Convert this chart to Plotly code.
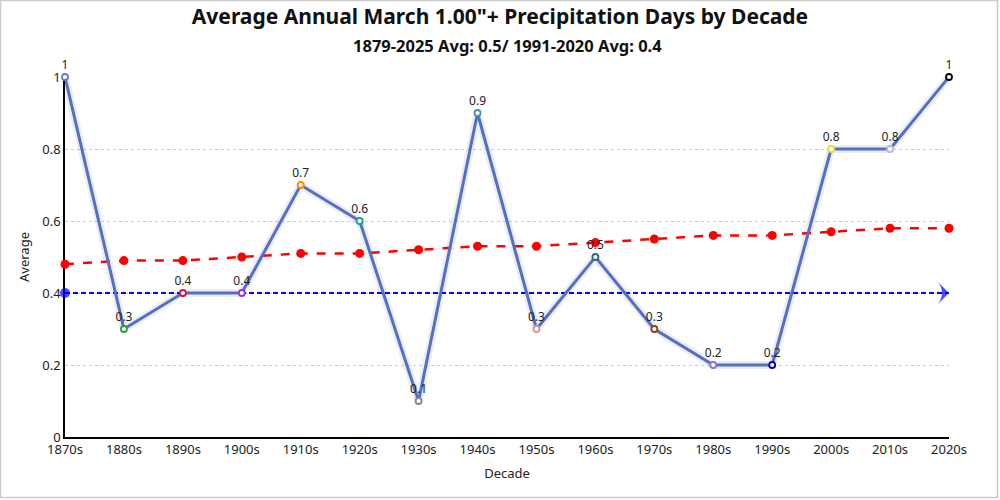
import plotly.graph_objects as go

decades = ["1870s", "1880s", "1890s", "1900s", "1910s", "1920s", "1930s", "1940s",
           "1950s", "1960s", "1970s", "1980s", "1990s", "2000s", "2010s", "2020s"]
averages = [1.0, 0.3, 0.4, 0.4, 0.7, 0.6, 0.1, 0.9, 0.3, 0.5, 0.3, 0.2, 0.2, 0.8, 0.8, 1.0]
trend = [0.48, 0.49, 0.49, 0.50, 0.51, 0.51, 0.52, 0.53, 0.53, 0.54, 0.55, 0.56, 0.56, 0.57, 0.58, 0.58]
normal_1991_2020 = 0.4
point_colors = ["#5b7fd6", "#2ca02c", "#dc143c", "#9932cc", "#ff8c00", "#20a090", "#888888", "#4a90b0",
                "#e0909a", "#2f6f6f", "#8b4513", "#9370db", "#0000cd", "#e6e040", "#b8bcd8", "#000000"]

W, H = 1000, 500
ml, mr, mt, mb = 65, 51, 77, 63
pw, ph = W - ml - mr, H - mt - mb
FONT = "Noto Sans"

fig = go.Figure()

# shadow of the main line
fig.add_trace(go.Scatter(
    x=decades, y=averages, mode="lines",
    line=dict(color="rgba(0,0,0,0.07)", width=8),
    hoverinfo="skip", showlegend=False, cliponaxis=False))

# trend line
fig.add_trace(go.Scatter(
    x=decades, y=trend, mode="lines+markers",
    line=dict(color="#ff0000", width=2.5, dash="dash"),
    marker=dict(color="#ff0000", size=9),
    showlegend=False, cliponaxis=False))

# normal line with arrow
n = len(decades)
fig.add_trace(go.Scatter(
    x=decades, y=[normal_1991_2020] * n, mode="lines+markers",
    line=dict(color="#0000ff", width=2, dash="5px,3px"),
    marker=dict(color="#0000ff",
                size=[10] + [0] * (n - 2) + [17],
                symbol=["circle"] + ["circle"] * (n - 2) + ["arrow-wide"],
                angle=[0] * (n - 1) + [90],
                line=dict(width=0)),
    showlegend=False, cliponaxis=False))

# main series
fig.add_trace(go.Scatter(
    x=decades, y=averages, mode="lines+markers+text",
    line=dict(color="#5470c6", width=3),
    marker=dict(color="white", size=6, line=dict(color=point_colors, width=1.8)),
    text=[f"{v:g}" for v in averages], textposition="top center",
    textfont=dict(family=FONT, size=12, color="#222"),
    showlegend=False, cliponaxis=False))

fig.update_layout(
    width=W, height=H,
    margin=dict(l=ml, r=mr, t=mt, b=mb, autoexpand=False),
    paper_bgcolor="white", plot_bgcolor="white",
    font=dict(family=FONT, size=12, color="#222"),
    title=dict(text="<b>Average Annual March 1.00\"+ Precipitation Days by Decade</b>",
               x=0.5, xanchor="center", y=(H - 17) / H, yanchor="middle",
               font=dict(family=FONT, size=21, color="#111")),
    xaxis=dict(type="category", range=[0, n - 1], showgrid=False, automargin=False,
               showline=True, linecolor="#000", linewidth=1.5, layer="below traces",
               ticks="", tickfont=dict(size=13),
               title=dict(text="Decade", font=dict(size=13), standoff=12)),
    yaxis=dict(range=[0, 1], dtick=0.2, showgrid=True, gridcolor="#cccccc", automargin=False,
               griddash="dot", gridwidth=1, zeroline=False, layer="below traces",
               showline=True, linecolor="#000", linewidth=1.5,
               ticks="", tickfont=dict(size=13), tickformat="~g",
               title=dict(text="Average", font=dict(size=13), standoff=10)),
    annotations=[dict(text="<b>1879-2025 Avg: 0.5/ 1991-2020 Avg: 0.4</b>",
                      xref="paper", yref="paper", x=0.5, y=(H - 45 - mb) / ph,
                      xanchor="center", yanchor="middle", showarrow=False,
                      font=dict(family=FONT, size=16.5, color="#111"))],
    shapes=[dict(type="rect", xref="paper", yref="paper",
                 x0=(0.5 - ml) / pw, x1=(W - 2.5 - ml) / pw,
                 y0=(-mb + 2.5) / ph, y1=(H - mb - 0.5) / ph,
                 line=dict(color="#cccccc", width=1.5), layer="below")],
)

fig.write_html("out.html", config={"displayModeBar": False},
               post_script="document.body.style.margin='0';document.body.style.overflow='hidden';")
